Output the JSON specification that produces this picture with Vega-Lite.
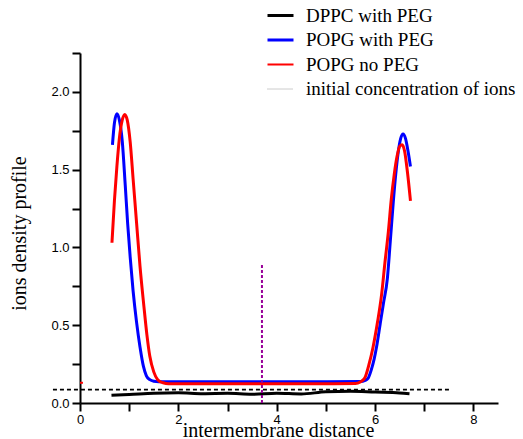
{
  "$schema": "https://vega.github.io/schema/vega-lite/v6.json",
  "width": 418,
  "height": 350,
  "autosize": {"type": "none"},
  "padding": {"left": 80, "top": 53, "right": 25, "bottom": 36},
  "background": "white",
  "config": {"view": {"stroke": null}, "font": "Liberation Sans"},
  "datasets": {
    "curves": [
      {"series": "DPPC with PEG", "x": 0.64, "y": 0.05},
      {"series": "DPPC with PEG", "x": 1.0, "y": 0.055},
      {"series": "DPPC with PEG", "x": 1.5, "y": 0.063},
      {"series": "DPPC with PEG", "x": 2.0, "y": 0.066},
      {"series": "DPPC with PEG", "x": 2.5, "y": 0.06},
      {"series": "DPPC with PEG", "x": 3.0, "y": 0.062},
      {"series": "DPPC with PEG", "x": 3.5, "y": 0.056},
      {"series": "DPPC with PEG", "x": 4.0, "y": 0.063},
      {"series": "DPPC with PEG", "x": 4.5, "y": 0.058},
      {"series": "DPPC with PEG", "x": 5.0, "y": 0.072},
      {"series": "DPPC with PEG", "x": 5.5, "y": 0.075},
      {"series": "DPPC with PEG", "x": 6.0, "y": 0.07},
      {"series": "DPPC with PEG", "x": 6.5, "y": 0.065},
      {"series": "DPPC with PEG", "x": 6.7, "y": 0.06},
      {"series": "POPG with PEG", "x": 0.66, "y": 1.66},
      {"series": "POPG with PEG", "x": 0.7, "y": 1.8},
      {"series": "POPG with PEG", "x": 0.75, "y": 1.86},
      {"series": "POPG with PEG", "x": 0.8, "y": 1.82},
      {"series": "POPG with PEG", "x": 0.86, "y": 1.68},
      {"series": "POPG with PEG", "x": 0.92, "y": 1.4},
      {"series": "POPG with PEG", "x": 0.97, "y": 1.15},
      {"series": "POPG with PEG", "x": 1.02, "y": 0.94},
      {"series": "POPG with PEG", "x": 1.08, "y": 0.72},
      {"series": "POPG with PEG", "x": 1.15, "y": 0.52},
      {"series": "POPG with PEG", "x": 1.22, "y": 0.36},
      {"series": "POPG with PEG", "x": 1.29, "y": 0.235},
      {"series": "POPG with PEG", "x": 1.35, "y": 0.175},
      {"series": "POPG with PEG", "x": 1.42, "y": 0.15},
      {"series": "POPG with PEG", "x": 1.5, "y": 0.14},
      {"series": "POPG with PEG", "x": 1.6, "y": 0.137},
      {"series": "POPG with PEG", "x": 3.0, "y": 0.137},
      {"series": "POPG with PEG", "x": 4.5, "y": 0.137},
      {"series": "POPG with PEG", "x": 5.7, "y": 0.138},
      {"series": "POPG with PEG", "x": 5.8, "y": 0.145},
      {"series": "POPG with PEG", "x": 5.86, "y": 0.16},
      {"series": "POPG with PEG", "x": 5.92, "y": 0.21},
      {"series": "POPG with PEG", "x": 5.98, "y": 0.28},
      {"series": "POPG with PEG", "x": 6.03, "y": 0.36},
      {"series": "POPG with PEG", "x": 6.1, "y": 0.5},
      {"series": "POPG with PEG", "x": 6.17, "y": 0.64},
      {"series": "POPG with PEG", "x": 6.25, "y": 0.8},
      {"series": "POPG with PEG", "x": 6.31, "y": 1.04},
      {"series": "POPG with PEG", "x": 6.37, "y": 1.29},
      {"series": "POPG with PEG", "x": 6.42, "y": 1.47},
      {"series": "POPG with PEG", "x": 6.47, "y": 1.61},
      {"series": "POPG with PEG", "x": 6.52, "y": 1.7},
      {"series": "POPG with PEG", "x": 6.57, "y": 1.73},
      {"series": "POPG with PEG", "x": 6.62, "y": 1.7},
      {"series": "POPG with PEG", "x": 6.67, "y": 1.62},
      {"series": "POPG with PEG", "x": 6.72, "y": 1.52},
      {"series": "POPG no PEG", "x": 0.65, "y": 1.03},
      {"series": "POPG no PEG", "x": 0.7, "y": 1.3},
      {"series": "POPG no PEG", "x": 0.75, "y": 1.52},
      {"series": "POPG no PEG", "x": 0.8, "y": 1.7},
      {"series": "POPG no PEG", "x": 0.86, "y": 1.82},
      {"series": "POPG no PEG", "x": 0.91, "y": 1.855},
      {"series": "POPG no PEG", "x": 0.96, "y": 1.82},
      {"series": "POPG no PEG", "x": 1.02, "y": 1.68},
      {"series": "POPG no PEG", "x": 1.08, "y": 1.44},
      {"series": "POPG no PEG", "x": 1.15, "y": 1.16},
      {"series": "POPG no PEG", "x": 1.22, "y": 0.88},
      {"series": "POPG no PEG", "x": 1.3, "y": 0.62},
      {"series": "POPG no PEG", "x": 1.36, "y": 0.44},
      {"series": "POPG no PEG", "x": 1.42, "y": 0.3},
      {"series": "POPG no PEG", "x": 1.5, "y": 0.2},
      {"series": "POPG no PEG", "x": 1.58, "y": 0.15},
      {"series": "POPG no PEG", "x": 1.69, "y": 0.13},
      {"series": "POPG no PEG", "x": 1.8, "y": 0.124},
      {"series": "POPG no PEG", "x": 3.0, "y": 0.124},
      {"series": "POPG no PEG", "x": 4.5, "y": 0.124},
      {"series": "POPG no PEG", "x": 5.6, "y": 0.125},
      {"series": "POPG no PEG", "x": 5.7, "y": 0.135},
      {"series": "POPG no PEG", "x": 5.79, "y": 0.16},
      {"series": "POPG no PEG", "x": 5.87, "y": 0.24},
      {"series": "POPG no PEG", "x": 5.96, "y": 0.36},
      {"series": "POPG no PEG", "x": 6.05, "y": 0.52},
      {"series": "POPG no PEG", "x": 6.13, "y": 0.69},
      {"series": "POPG no PEG", "x": 6.2, "y": 0.9},
      {"series": "POPG no PEG", "x": 6.27, "y": 1.1},
      {"series": "POPG no PEG", "x": 6.33, "y": 1.31},
      {"series": "POPG no PEG", "x": 6.39, "y": 1.47},
      {"series": "POPG no PEG", "x": 6.45, "y": 1.59},
      {"series": "POPG no PEG", "x": 6.5, "y": 1.65},
      {"series": "POPG no PEG", "x": 6.55, "y": 1.66},
      {"series": "POPG no PEG", "x": 6.6, "y": 1.62},
      {"series": "POPG no PEG", "x": 6.66, "y": 1.48},
      {"series": "POPG no PEG", "x": 6.72, "y": 1.3}
    ],
    "ref": [
      {"x": -0.55, "y": 0.086},
      {"x": 7.55, "y": 0.086}
    ],
    "marker": [
      {"x": 3.7, "y": 0.0},
      {"x": 3.7, "y": 0.9}
    ],
    "stray": [
      {"x": 0.0, "y": 0.13},
      {"x": 0.06, "y": 0.13}
    ]
  },
  "encoding": {
    "x": {
      "field": "x",
      "type": "quantitative",
      "scale": {"domain": [0, 8.5], "nice": false, "zero": false},
      "axis": {
        "title": "intermembrane distance",
        "values": [0, 1, 2, 3, 4, 5, 6, 7, 8],
        "format": "d",
        "labelExpr": "datum.value % 2 === 0 ? datum.label : ''",
        "grid": false,
        "domainColor": "black",
        "domainWidth": 2,
        "tickColor": "black",
        "tickWidth": 2,
        "tickSize": 8,
        "labelFont": "Liberation Sans",
        "labelFontSize": 13,
        "labelColor": "black",
        "labelPadding": 2,
        "labelFlush": false,
        "labelOverlap": false,
        "titleFont": "Liberation Serif",
        "titleFontSize": 20,
        "titleFontWeight": "normal",
        "titleColor": "black",
        "titleX": 198,
        "titleY": 33,
        "titleBaseline": "alphabetic",
        "encode": {"ticks": {"update": {"y2": {"signal": "datum.value % 2 === 0 ? 8 : 5"}}}}
      }
    },
    "y": {
      "field": "y",
      "type": "quantitative",
      "scale": {"domain": [0, 2.25], "nice": false},
      "axis": {
        "title": "ions density profile",
        "values": [0, 0.25, 0.5, 0.75, 1, 1.25, 1.5, 1.75, 2, 2.25],
        "format": ".1f",
        "labelExpr": "datum.value % 0.5 === 0 ? datum.label : ''",
        "grid": false,
        "domainColor": "black",
        "domainWidth": 2,
        "tickColor": "black",
        "tickWidth": 2,
        "tickSize": 8,
        "labelFont": "Liberation Sans",
        "labelFontSize": 13,
        "labelColor": "black",
        "labelPadding": 3,
        "labelFlush": false,
        "labelOverlap": false,
        "titleFont": "Liberation Serif",
        "titleFontSize": 20,
        "titleFontWeight": "normal",
        "titleColor": "black",
        "titleX": -55,
        "titleY": 180,
        "titleAngle": -90,
        "titleBaseline": "alphabetic",
        "encode": {"ticks": {"update": {"x2": {"signal": "datum.value % 0.5 === 0 ? -8 : -4"}}}}
      }
    }
  },
  "layer": [
    {
      "data": {"name": "curves"},
      "mark": {"type": "line", "interpolate": "monotone"},
      "encoding": {
        "color": {
          "field": "series",
          "type": "nominal",
          "sort": null,
          "scale": {
            "domain": ["DPPC with PEG", "POPG with PEG", "POPG no PEG", "initial concentration of ions"],
            "range": ["#000000", "#0000ff", "#ff0000", "#999999"]
          },
          "legend": {
            "title": null,
            "orient": "none",
            "legendX": 191,
            "legendY": -47,
            "padding": 0,
            "symbolType": "stroke",
            "symbolSize": 676,
            "labelFont": "Liberation Serif",
            "labelFontSize": 19,
            "labelFontWeight": "normal",
            "labelColor": "black",
            "labelLimit": 400,
            "labelOffset": 16,
            "rowPadding": 4.5,
            "encode": {
              "symbols": {
                "update": {
                  "strokeWidth": {"signal": "datum.value === 'initial concentration of ions' ? 1 : (datum.value === 'POPG no PEG' ? 2 : 3)"},
                  "strokeDash": {"signal": "datum.value === 'initial concentration of ions' ? [1, 1] : [1, 0]"}
                }
              }
            }
          }
        },
        "strokeWidth": {
          "field": "series",
          "type": "ordinal",
          "scale": {"domain": ["DPPC with PEG", "POPG with PEG", "POPG no PEG"], "range": [3, 3, 2.5]},
          "legend": null
        }
      }
    },
    {
      "data": {"name": "ref"},
      "mark": {"type": "line", "color": "black", "strokeWidth": 1.6, "strokeDash": [4, 3]}
    },
    {
      "data": {"name": "marker"},
      "mark": {"type": "line", "color": "#990099", "strokeWidth": 2, "strokeDash": [3, 2]}
    },
    {
      "data": {"name": "stray"},
      "mark": {"type": "line", "color": "#ff0000", "strokeWidth": 2}
    }
  ]
}
